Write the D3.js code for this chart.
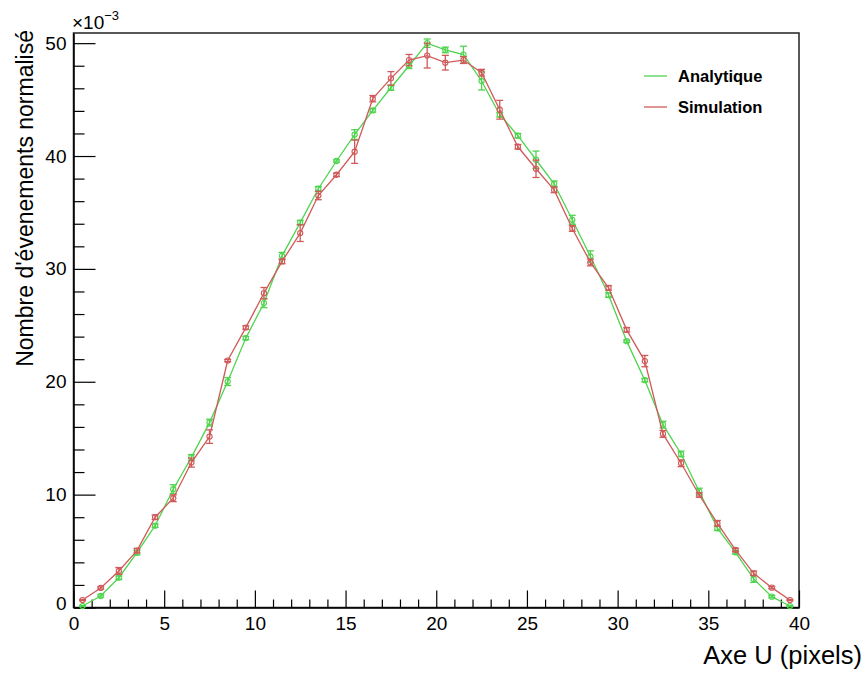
<!DOCTYPE html>
<html>
<head>
<meta charset="utf-8">
<script src="https://cdn.jsdelivr.net/npm/d3@7"></script>
<style>
  body { margin: 0; background: #fff; }
  text { font-family: "Liberation Sans", Arial, Helvetica, sans-serif; }
</style>
</head>
<body>
<script>
// bin centres (Axe U, pixels)
var binCentres = [0.5, 1.5, 2.5, 3.5, 4.5, 5.5, 6.5, 7.5, 8.5, 9.5,
                  10.5, 11.5, 12.5, 13.5, 14.5, 15.5, 16.5, 17.5, 18.5, 19.5,
                  20.5, 21.5, 22.5, 23.5, 24.5, 25.5, 26.5, 27.5, 28.5, 29.5,
                  30.5, 31.5, 32.5, 33.5, 34.5, 35.5, 36.5, 37.5, 38.5, 39.5];

// values in units of 1e-3
var analytique = [0.13, 1.02, 2.64, 4.86, 7.25, 10.48, 13.3, 16.38, 20.02, 23.87,
                  26.97, 31.16, 34.1, 37.1, 39.56, 41.9, 44.04, 46.05, 48.0, 50.0,
                  49.4, 48.98, 46.65, 43.66, 41.8, 39.67, 37.54, 34.35, 31.1, 27.68,
                  23.6, 20.14, 16.2, 13.6, 10.27, 7.02, 4.89, 2.53, 0.96, 0.13];
var analytiqueErr = [0.05, 0.1, 0.15, 0.2, 0.15, 0.4, 0.25, 0.3, 0.35, 0.15,
                     0.4, 0.3, 0.2, 0.2, 0.1, 0.43, 0.15, 0.22, 0.25, 0.37,
                     0.25, 0.75, 0.8, 0.2, 0.2, 0.77, 0.25, 0.4, 0.5, 0.2,
                     0.1, 0.15, 0.3, 0.25, 0.3, 0.2, 0.15, 0.3, 0.1, 0.05];

var simulation = [0.66, 1.73, 3.24, 5.04, 8.0, 9.68, 12.84, 15.14, 21.88, 24.8,
                  27.85, 30.66, 33.17, 36.5, 38.34, 40.38, 45.08, 46.88, 48.5, 48.9,
                  48.27, 48.5, 47.38, 44.1, 40.82, 38.87, 37.0, 33.58, 30.57, 28.32,
                  24.6, 21.83, 15.38, 12.78, 9.97, 7.46, 5.1, 3.03, 1.76, 0.66];
var simulationErr = [0.05, 0.1, 0.3, 0.2, 0.2, 0.3, 0.4, 0.6, 0.1, 0.15,
                     0.5, 0.2, 0.74, 0.37, 0.15, 1.03, 0.28, 0.6, 0.5, 1.1,
                     0.65, 0.3, 0.3, 0.83, 0.2, 0.77, 0.25, 0.25, 0.3, 0.2,
                     0.2, 0.5, 0.3, 0.3, 0.2, 0.25, 0.15, 0.2, 0.1, 0.05];

var xTickLabels = [0, 5, 10, 15, 20, 25, 30, 35, 40];
var yTickLabels = [0, 10, 20, 30, 40, 50];

var seriesNames = ["Analytique", "Simulation"];
var seriesColors = ["#4fd44f", "#d05a5a"];

var W = 867, H = 673;
var frame = {left: 73.5, right: 799, top: 33, bottom: 607.5};

var svg = d3.select("body").append("svg").attr("width", W).attr("height", H);

var x = d3.scaleLinear().domain([0, 40]).range([frame.left, frame.right]);
var y = d3.scaleLinear().domain([0, 50.9]).range([frame.bottom, frame.top]);

// frame
svg.append("rect")
   .attr("x", frame.left).attr("y", frame.top)
   .attr("width", frame.right - frame.left).attr("height", frame.bottom - frame.top)
   .attr("fill", "none").attr("stroke", "#222").attr("stroke-width", 1.5);

// x axis : major + minor ticks pointing up
var xMinor = x.ticks(40).filter(function(v) { return v % 5 !== 0; });
svg.append("g")
   .attr("transform", "translate(0," + frame.bottom + ")")
   .call(d3.axisBottom(x).tickValues(xMinor).tickFormat("").tickSize(-8).tickSizeOuter(0))
   .call(function(g) { g.select(".domain").remove(); });
var gx = svg.append("g")
   .attr("transform", "translate(0," + frame.bottom + ")")
   .call(d3.axisBottom(x).tickValues(xTickLabels).tickSize(-17).tickSizeOuter(0).tickPadding(9));
gx.select(".domain").attr("stroke", "#000").attr("stroke-width", 1.5);
gx.selectAll("text").attr("font-size", 19).attr("fill", "#000")
  .attr("font-family", "Liberation Sans, Arial, sans-serif");

// y axis : major + minor ticks pointing right
var yMinor = y.ticks(25).filter(function(v) { return v % 10 !== 0 && v <= 50; });
svg.append("g")
   .attr("transform", "translate(" + frame.left + ",0)")
   .call(d3.axisLeft(y).tickValues(yMinor).tickFormat("").tickSize(-11).tickSizeOuter(0))
   .call(function(g) { g.select(".domain").remove(); });
var gy = svg.append("g")
   .attr("transform", "translate(" + frame.left + ",0)")
   .call(d3.axisLeft(y).tickValues(yTickLabels).tickSize(-22).tickSizeOuter(0).tickPadding(7));
gy.select(".domain").attr("stroke", "#000").attr("stroke-width", 1.5);
gy.selectAll("text").attr("font-size", 19).attr("fill", "#000")
  .attr("font-family", "Liberation Sans, Arial, sans-serif");
gy.selectAll(".tick").filter(function(d) { return d === 0; }).select("text").attr("dy", "0.1em");
svg.selectAll(".tick line").attr("stroke", "#000").attr("stroke-width", 1.2);

// exponent label
var expo = svg.append("text").attr("x", 72).attr("y", 29).attr("font-size", 19).attr("fill", "#000");
expo.append("tspan").text("\u00d710");
expo.append("tspan").attr("dy", -9).attr("font-size", 13).text("\u22123");

// axis titles
svg.append("text")
   .attr("x", 862).attr("y", 664)
   .attr("text-anchor", "end").attr("font-size", 25.5).attr("fill", "#000")
   .text("Axe U (pixels)");
svg.append("text")
   .attr("transform", "translate(33,30) rotate(-90)")
   .attr("text-anchor", "end").attr("font-size", 23).attr("fill", "#000")
   .text("Nombre d'\u00e9venements normalis\u00e9");

// series
var allSeries = [
  {vals: analytique, errs: analytiqueErr},
  {vals: simulation, errs: simulationErr}
];

var line = d3.line()
  .x(function(d) { return x(d.u); })
  .y(function(d) { return y(d.v); });

allSeries.forEach(function(s, si) {
  var pts = binCentres.map(function(u, i) { return {u: u, v: s.vals[i], e: s.errs[i]}; });
  var col = seriesColors[si];
  var g = svg.append("g").attr("stroke", col).attr("fill", "none");

  g.append("path").datum(pts).attr("d", line).attr("stroke-width", 1.3);

  var eb = g.selectAll(".err").data(pts).enter().append("g").attr("class", "err");
  eb.append("line")
    .attr("x1", function(d) { return x(d.u); }).attr("x2", function(d) { return x(d.u); })
    .attr("y1", function(d) { return y(d.v - d.e); }).attr("y2", function(d) { return y(d.v + d.e); })
    .attr("stroke-width", 1.3);
  [-1, 1].forEach(function(sgn) {
    eb.append("line")
      .attr("x1", function(d) { return x(d.u) - 3.5; }).attr("x2", function(d) { return x(d.u) + 3.5; })
      .attr("y1", function(d) { return y(d.v + sgn * d.e); }).attr("y2", function(d) { return y(d.v + sgn * d.e); })
      .attr("stroke-width", 1.3);
  });
  eb.append("circle")
    .attr("cx", function(d) { return x(d.u); }).attr("cy", function(d) { return y(d.v); })
    .attr("r", 2.6).attr("stroke-width", 1.1).attr("fill", "none");
});

// legend
var legend = svg.append("g");
seriesNames.forEach(function(name, i) {
  var ly = 76 + i * 31;
  legend.append("line")
    .attr("x1", 644).attr("x2", 667).attr("y1", ly).attr("y2", ly)
    .attr("stroke", seriesColors[i]).attr("stroke-width", 1.3);
  legend.append("text")
    .attr("x", 678).attr("y", ly + 6)
    .attr("font-size", 16.5).attr("font-weight", "bold").attr("fill", "#000")
    .text(name);
});
</script>
</body>
</html>
